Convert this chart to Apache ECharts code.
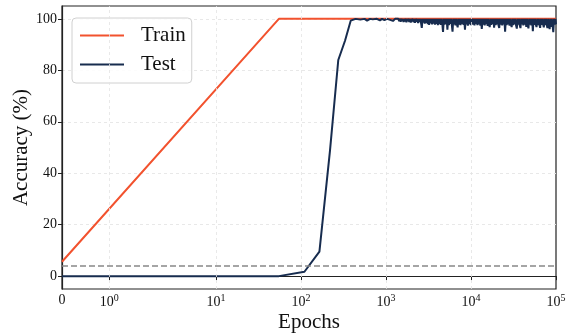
<!DOCTYPE html>
<html>
<head>
<meta charset="utf-8">
<script src="https://cdn.jsdelivr.net/npm/echarts@6/dist/echarts.min.js"></script>
<style>
  html, body { margin: 0; padding: 0; background: #fff; }
  #chart { width: 573px; height: 334px; }
</style>
</head>
<body>
<div id="chart"></div>
<script>
// tick positions (epochs) and labels on the symlog x axis
const xTickEpochs = [0, 1, 10, 100, 1000, 10000, 100000];
const xTickExps = ["", "0", "1", "2", "3", "4", "5"];
const yTicks = [0, 20, 40, 60, 80, 100];
const chanceLevel = 4.17;

// [epoch, accuracy]
const trainData = [
  [0, 5.6], [55, 100], [620, 100], [650, 99.3], [680, 100],
  [1240, 100], [1280, 99.4], [1320, 100], [100000, 100]
];

const testHead = [
  [0, 0], [55, 0], [110, 1.7], [165, 9.5], [220, 49], [275, 84],
  [330, 91.5], [385, 99.3], [440, 100], [500, 99.7], [560, 100],
  [600, 99.3], [650, 100], [700, 99.8], [780, 100], [850, 99.4],
  [900, 100], [960, 99.5], [1030, 100], [1120, 99.6], [1210, 99.2],
  [1280, 100], [1340, 99.4]
];

const testTail = [
  [1400,100],[1430,99.1],[1460,100],[1490,98.9],[1520,100],[1550,99.2],[1580,100],[1610,98.8],[1640,100],[1670,99.0],
  [1700,100],[1740,98.7],[1770,100],[1810,99.1],[1840,100],[1880,98.8],[1920,100],[1960,98.6],[2000,100],[2040,99.0],
  [2080,100],[2120,98.7],[2160,100],[2200,98.5],[2250,100],[2300,98.9],[2340,100],[2390,98.4],[2440,100],[2490,98.8],
  [2540,100],[2590,98.3],[2640,96.5],[2690,100],[2750,98.6],[2800,100],[2860,98.2],[2920,100],[2970,98.5],[3030,100],
  [3100,98.0],[3160,100],[3220,97.7],[3280,100],[3350,98.3],[3420,100],[3490,97.9],[3560,100],[3630,98.2],[3700,100],
  [3770,97.8],[3850,100],[3930,98.1],[4000,100],[4080,97.6],[4170,100],[4250,98.0],[4330,100],[4420,97.7],[4510,100],
  [4600,98.2],[4690,94.9],[4790,100],[4880,97.8],[4980,100],[5080,98.0],[5180,100],[5280,95.8],[5390,100],[5500,97.6],
  [5610,100],[5720,98.1],[5830,100],[5950,97.7],[6070,95.0],[6190,100],[6310,97.9],[6440,100],[6570,97.5],[6700,100],
  [6830,98.0],[6970,96.7],[7110,100],[7250,97.8],[7400,100],[7540,97.6],[7700,100],[7850,98.1],[8010,100],[8170,97.7],
  [8330,100],[8500,95.8],[8670,100],[8840,97.9],[9020,100],[9200,97.4],[9380,100],[9570,98.0],[9760,100],[9960,97.6],
  [10200,96.9],[10400,100],[10600,97.8],[10800,100],[11000,97.5],[11200,100],[11400,98.1],[11700,100],[11900,97.6],[12100,100],
  [12400,97.9],[12600,100],[12900,97.4],[13100,100],[13400,96.1],[13700,100],[13900,97.8],[14200,100],[14500,97.5],[14800,100],
  [15100,98.0],[15400,100],[15700,97.3],[16000,100],[16300,97.8],[16600,96.8],[17000,100],[17300,97.7],[17600,100],[18000,98.0],
  [18400,100],[18700,96.6],[19100,100],[19500,97.6],[19900,100],[20300,97.9],[20700,100],[21100,97.4],[21500,96.5],[21900,100],
  [22400,97.8],[22800,100],[23300,97.5],[23700,100],[24200,97.9],[24700,100],[25200,95.0],[25700,100],[26200,97.6],[26700,100],
  [27300,97.9],[27800,100],[28400,97.4],[28900,100],[29500,97.8],[30100,96.8],[30700,100],[31300,97.6],[31900,100],[32600,97.9],
  [33200,100],[33900,97.5],[34600,96.2],[35300,100],[36000,97.8],[36700,100],[37400,97.6],[38200,96.4],[38900,100],[39700,97.9],
  [40500,100],[41300,97.5],[42100,100],[43000,97.8],[43800,100],[44700,96.9],[45600,100],[46500,97.6],[47400,96.3],[48400,100],
  [49400,97.8],[50300,100],[51300,97.5],[52400,100],[53400,95.2],[54500,100],[55600,97.7],[56700,100],[57800,97.9],[59000,96.8],
  [60200,100],[61400,97.6],[62600,100],[63800,97.9],[65100,96.5],[66400,100],[67700,97.7],[69100,100],[70500,97.9],[71900,96.7],
  [73300,100],[74800,97.6],[76300,100],[77800,97.8],[79300,96.4],[80900,100],[82500,97.7],[84200,96.0],[85900,100],[87600,96.9],
  [89300,100],[91100,97.6],[92900,94.8],[94800,100],[96700,97.8],[98600,100],[100000,97.9]
];

// matplotlib-style symlog, linthresh 2, linscale 1
function symlog(x) {
  const t = 2, ls = 1 / (1 - 1 / 10);
  return x <= t ? ls * x / t : ls + Math.log10(x / t);
}
const toXY = (d) => [symlog(d[0]), d[1]];

const serif = "Liberation Serif";
const trainColor = "#f2522e";
const testColor = "#172c4f";
const gridStyle = { color: "#e3e3e3", width: 0.8, type: [3, 3] };

const chart = echarts.init(document.getElementById("chart"), null, { renderer: "canvas" });

chart.setOption({
  animation: false,
  grid: {
    left: 62, right: 17, top: 6, bottom: 45,
    containLabel: false, outerBoundsMode: "none",
    show: true, borderColor: "#222", borderWidth: 1.2
  },
  legend: {
    left: 72, top: 18,
    orient: "vertical",
    itemWidth: 44, itemHeight: 2, itemGap: 8,
    icon: "rect",
    padding: [7, 6, 8, 8],
    borderColor: "#d0d0d0", borderWidth: 1, borderRadius: 4,
    backgroundColor: "rgba(255,255,255,0.85)",
    textStyle: { fontFamily: serif, fontSize: 21, color: "#111", padding: [0, 0, 0, 12] },
    data: ["Train", "Test"]
  },
  xAxis: {
    type: "value",
    min: 0,
    max: symlog(100000),
    name: "Epochs",
    nameLocation: "middle",
    nameGap: 23,
    nameMoveOverlap: false,
    nameTextStyle: { fontFamily: serif, fontSize: 21, color: "#111" },
    axisLine: { show: true, lineStyle: { color: "#222", width: 1.2 } },
    axisTick: { show: true, length: 4, lineStyle: { color: "#222" }, customValues: xTickEpochs.map(symlog) },
    splitLine: { show: false },
    axisLabel: {
      customValues: xTickEpochs.map(symlog),
      margin: 4,
      formatter: (v) => {
        let best = 0;
        xTickEpochs.forEach((e, i) => {
          if (Math.abs(symlog(e) - v) < Math.abs(symlog(xTickEpochs[best]) - v)) best = i;
        });
        return best === 0 ? "{b|0}" : "{b|10}{e|" + xTickExps[best] + "}";
      },
      rich: {
        b: { fontFamily: serif, fontSize: 14, color: "#111" },
        e: { fontFamily: serif, fontSize: 10, color: "#111", padding: [0, 0, 9, 0] }
      }
    }
  },
  yAxis: {
    type: "value",
    min: -5,
    max: 105,
    name: "Accuracy (%)",
    nameLocation: "middle",
    nameGap: 30,
    nameMoveOverlap: false,
    nameTextStyle: { fontFamily: serif, fontSize: 21, color: "#111" },
    axisLine: { show: true, lineStyle: { color: "#222", width: 1.2 } },
    axisTick: { show: true, length: 4, lineStyle: { color: "#222" }, customValues: yTicks },
    axisLabel: { customValues: yTicks, fontFamily: serif, fontSize: 14, color: "#111", margin: 5 },
    splitLine: { show: true, lineStyle: gridStyle }
  },
  series: [
    {
      name: "Train",
      type: "line",
      data: trainData.map(toXY),
      showSymbol: false,
      lineStyle: { color: trainColor, width: 2 },
      itemStyle: { color: trainColor },
      z: 2,
      markLine: {
        silent: true,
        symbol: "none",
        label: { show: false },
        data: xTickEpochs.slice(1, -1).map((e) => ({ xAxis: symlog(e), lineStyle: gridStyle }))
          .concat([{ yAxis: chanceLevel, lineStyle: { color: "#888", width: 1.5, type: [6, 3] } }])
      }
    },
    {
      name: "Test",
      type: "line",
      data: testHead.concat(testTail).map(toXY),
      showSymbol: false,
      lineStyle: { color: testColor, width: 2 },
      itemStyle: { color: testColor },
      z: 3
    }
  ]
});
</script>
</body>
</html>
